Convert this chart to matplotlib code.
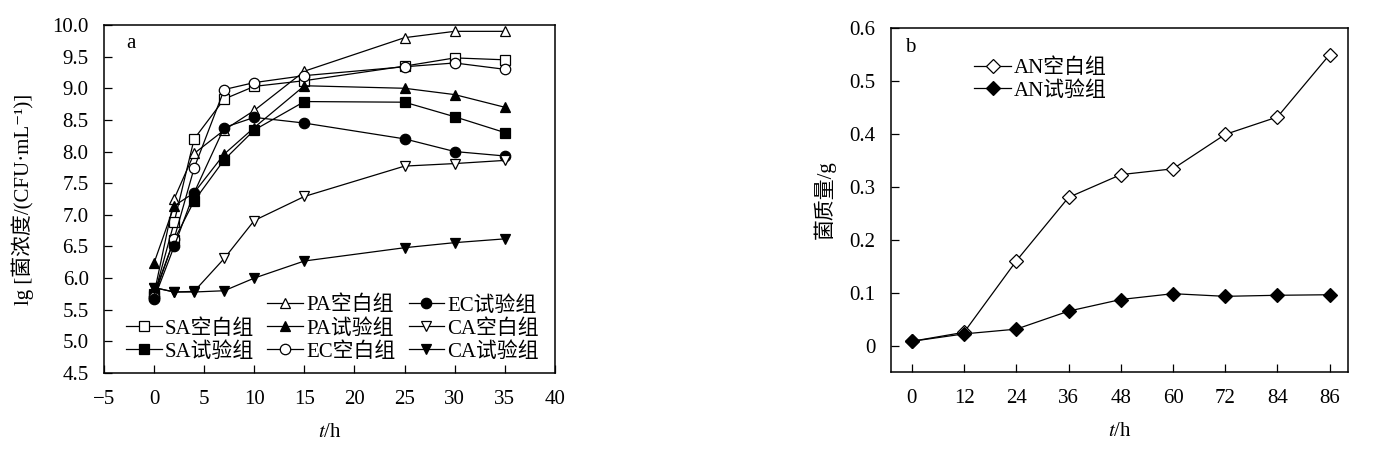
import matplotlib
matplotlib.use("Agg")
import matplotlib.pyplot as plt
from matplotlib.lines import Line2D

plt.rcParams['font.family'] = ['Liberation Serif', 'Noto Sans CJK SC', 'DejaVu Serif']
plt.rcParams['mathtext.fontset'] = 'stix'
plt.rcParams['axes.unicode_minus'] = True

# --- data: panel a (lg cell concentration) ---
t_a = [0, 2, 4, 7, 10, 15, 25, 30, 35]
sa_blank = [5.72, 6.88, 8.20, 8.83, 9.03, 9.12, 9.35, 9.48, 9.45]
sa_test = [5.75, 6.60, 7.22, 7.87, 8.34, 8.79, 8.78, 8.55, 8.30]
pa_blank = [5.75, 7.25, 7.97, 8.34, 8.65, 9.27, 9.80, 9.90, 9.90]
pa_test = [6.24, 7.14, 7.35, 7.96, 8.38, 9.04, 9.00, 8.90, 8.70]
ec_blank = [5.70, 6.62, 7.74, 8.98, 9.09, 9.20, 9.34, 9.40, 9.30]
ec_test = [5.67, 6.50, 7.35, 8.38, 8.54, 8.45, 8.20, 8.00, 7.93]
ca_blank = [5.85, 5.78, 5.79, 6.31, 6.91, 7.29, 7.77, 7.81, 7.86]
ca_test = [5.85, 5.78, 5.78, 5.80, 6.00, 6.27, 6.48, 6.56, 6.62]

# --- data: panel b (AN mass) ---
t_b = ['0', '12', '24', '36', '48', '60', '72', '84', '86']
an_blank = [0.008, 0.025, 0.160, 0.280, 0.323, 0.334, 0.399, 0.432, 0.550]
an_test = [0.008, 0.022, 0.031, 0.065, 0.087, 0.098, 0.093, 0.095, 0.096]

FS = 15
fig = plt.figure(figsize=(13.79, 4.49), dpi=100)
ax1 = fig.add_axes([0.0754, 0.1693, 0.327, 0.775])
ax2 = fig.add_axes([0.6461, 0.1715, 0.3314, 0.766])

common = dict(color='black', lw=0.9, ms=7.5, mew=0.9)
series = [
    ('SA空白组', sa_blank, 's', 'white'),
    ('SA试验组', sa_test, 's', 'black'),
    ('PA空白组', pa_blank, '^', 'white'),
    ('PA试验组', pa_test, '^', 'black'),
    ('EC空白组', ec_blank, 'o', 'white'),
    ('EC试验组', ec_test, 'o', 'black'),
    ('CA空白组', ca_blank, 'v', 'white'),
    ('CA试验组', ca_test, 'v', 'black'),
]
handles = {}
for name, vals, mk, fc in series:
    ln, = ax1.plot(t_a, vals, marker=mk, mfc=fc, mec='black', label=name, **common)
    handles[name] = ln

ax1.set_xlim(-5, 40)
ax1.set_ylim(4.5, 10.0)
ax1.set_xticks(range(-5, 41, 5))
ax1.set_yticks([4.5 + 0.5 * i for i in range(12)])
ax1.set_xticklabels(['\u22125'] + [str(v) for v in range(0, 41, 5)])
ax1.set_yticklabels([f'{4.5 + 0.5 * i:.1f}' for i in range(12)])
ax1.set_xlabel('$\\mathit{t}$/h', fontsize=FS, labelpad=10)
ax1.set_ylabel('lg [菌浓度/(CFU·mL\u207b\u00b9)]', fontsize=FS, labelpad=13)
ax1.text(0.05, 0.975, 'a', transform=ax1.transAxes, fontsize=FS, va='top')

blank = Line2D([], [], color='none', marker=None)
order = [blank, handles['SA空白组'], handles['SA试验组'],
         handles['PA空白组'], handles['PA试验组'], handles['EC空白组'],
         handles['EC试验组'], handles['CA空白组'], handles['CA试验组']]
labels = ['', 'SA空白组', 'SA试验组', 'PA空白组', 'PA试验组', 'EC空白组',
          'EC试验组', 'CA空白组', 'CA试验组']
ax1.legend(order, labels, ncol=3, frameon=False, fontsize=FS,
           loc='lower right', bbox_to_anchor=(0.99, 0.0),
           handlelength=1.7, handletextpad=0.15, columnspacing=0.65,
           labelspacing=0.16, borderaxespad=0.15)

# --- panel b ---
xb = range(len(t_b))
ax2.plot(xb, an_blank, marker='D', mfc='white', mec='black', label='AN空白组', **common)
ax2.plot(xb, an_test, marker='D', mfc='black', mec='black', label='AN试验组', **common)
ax2.set_xlim(-0.4, 8.35)
ax2.set_ylim(-0.05, 0.6)
ax2.set_xticks(list(xb))
ax2.set_xticklabels(t_b)
ax2.set_yticks([0, 0.1, 0.2, 0.3, 0.4, 0.5, 0.6])
ax2.set_yticklabels(['0', '0.1', '0.2', '0.3', '0.4', '0.5', '0.6'])
ax2.set_xlabel('$\\mathit{t}$/h', fontsize=FS, labelpad=10)
ax2.set_ylabel('菌质量/g', fontsize=FS, labelpad=10)
ax2.text(0.03, 0.97, 'b', transform=ax2.transAxes, fontsize=FS, va='top')
ax2.legend(frameon=False, fontsize=FS, loc='upper left', bbox_to_anchor=(0.163, 0.935),
           handlelength=1.8, handletextpad=0.1, labelspacing=0.12, borderaxespad=0)

for ax in (ax1, ax2):
    ax.tick_params(direction='in', length=5.5, width=0.9, labelsize=FS)
    ax.tick_params(axis='x', pad=12)
    ax.tick_params(axis='y', pad=11)
    for sp in ax.spines.values():
        sp.set_linewidth(1.1)

fig.savefig('out.png', dpi=100)
